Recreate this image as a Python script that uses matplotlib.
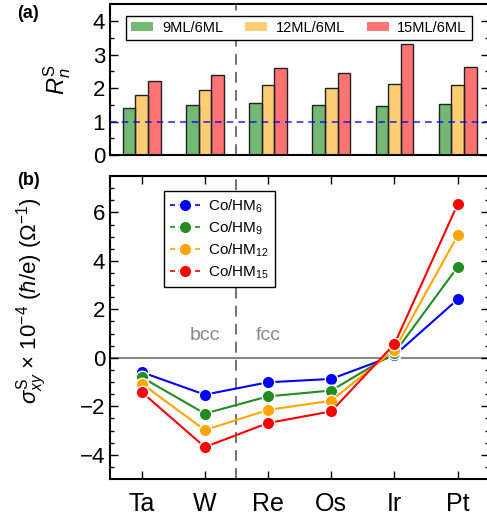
import matplotlib.pyplot as plt
import numpy as np
from matplotlib.lines import Line2D

plt.rcParams['font.family'] = ['Liberation Sans', 'DejaVu Sans']
plt.rcParams['mathtext.fontset'] = 'custom'
plt.rcParams['mathtext.rm'] = 'Liberation Sans'
plt.rcParams['mathtext.it'] = 'Liberation Sans:italic'

# metaller
metaller = ['Ta', 'W', 'Re', 'Os', 'Ir', 'Pt']

# (a) forhold R_n^S
r_9 = [1.40, 1.49, 1.56, 1.51, 1.47, 1.53]
r_12 = [1.79, 1.94, 2.09, 2.01, 2.14, 2.09]
r_15 = [2.22, 2.38, 2.59, 2.44, 3.33, 2.62]
bar_navn = ['9ML/6ML', '12ML/6ML', '15ML/6ML']

# (b) spinn-Hall-konduktivitet
sig_6 = [-0.59, -1.52, -1.01, -0.87, 0.10, 2.41]
sig_9 = [-0.80, -2.30, -1.59, -1.35, 0.20, 3.75]
sig_12 = [-1.06, -2.98, -2.15, -1.77, 0.34, 5.05]
sig_15 = [-1.41, -3.68, -2.69, -2.21, 0.57, 6.34]
linje_navn = ['Co/HM$_{6}$', 'Co/HM$_{9}$', 'Co/HM$_{12}$', 'Co/HM$_{15}$']

x = np.arange(len(metaller))

fig = plt.figure(figsize=(4.87, 5.2), dpi=100)
ax1 = fig.add_axes([0.2259, 0.7019, 0.7788, 0.2904])
ax2 = fig.add_axes([0.2259, 0.0788, 0.7788, 0.5827])

# --- (a) ---
b = 0.2
farger_bar = ['green', 'orange', 'red']
for i, (verdier, farge, navn) in enumerate(zip([r_9, r_12, r_15], farger_bar, bar_navn)):
    ax1.bar(x + (i - 1) * b, verdier, width=b, color=farge, alpha=0.55,
            edgecolor='none', label=navn, zorder=2)
    ax1.bar(x + (i - 1) * b, verdier, width=b, color='none',
            edgecolor='#222222', linewidth=1.0, zorder=3)
ax1.axhline(1, color='blue', ls=(0, (4, 3)), lw=1.2, alpha=0.8, zorder=4)
ax1.axvline(1.5, color='#666666', ls=(0, (6, 4)), lw=1.3, zorder=1)
ax1.set_xlim(-0.5, 5.5)
ax1.set_ylim(0, 4.52)
ax1.set_yticks([0, 1, 2, 3, 4])
ax1.set_yticks(np.arange(0.5, 4.5, 1), minor=True)
ax1.set_xticks([])
ax1.tick_params(axis='y', which='both', direction='in', right=True, labelsize=16)
ax1.tick_params(axis='y', which='major', length=6, width=1)
ax1.tick_params(axis='y', which='minor', length=3, width=1)
ax1.set_ylabel('$R^{\\mathrm{S}}_{n}$', fontsize=17, labelpad=14)
leg1 = ax1.legend(loc='upper center', bbox_to_anchor=(0.498, 0.97), ncol=3,
                  fontsize=10.5, frameon=True, fancybox=False, edgecolor='black',
                  handlelength=1.5, handleheight=0.6, columnspacing=1.5,
                  handletextpad=0.6, borderpad=0.35, framealpha=1)
leg1.get_frame().set_linewidth(1.0)
for s in ax1.spines.values():
    s.set_linewidth(1.5)

# --- (b) ---
farger_linje = ['blue', 'forestgreen', 'orange', 'red']
ax2.axhline(0, color='#888888', lw=1.5, zorder=1)
ax2.axvline(1.5, color='#666666', ls=(0, (6, 4)), lw=1.3, zorder=1)
handles = []
for verdier, farge, navn in zip([sig_6, sig_9, sig_12, sig_15], farger_linje, linje_navn):
    ax2.plot(x, verdier, '-o', color=farge, lw=1.5, ms=9,
             markeredgecolor='white', markeredgewidth=1.0, zorder=3)
    handles.append(Line2D([], [], color=farge, ls=(0, (3, 2)), lw=1.2, marker='o',
                          ms=9, markeredgecolor='white', markeredgewidth=1.0, label=navn))
ax2.text(1, 0.55, 'bcc', color='#888888', fontsize=14, ha='center', va='bottom')
ax2.text(2, 0.55, 'fcc', color='#888888', fontsize=14, ha='center', va='bottom')
ax2.set_xlim(-0.5, 5.5)
ax2.set_ylim(-5, 7.5)
ax2.set_xticks(x)
ax2.set_xticklabels(metaller)
ax2.set_yticks([-4, -2, 0, 2, 4, 6])
ax2.set_yticks(np.arange(-4.5, 7.5, 0.5), minor=True)
ax2.tick_params(axis='both', which='both', direction='in', right=True, top=True)
ax2.tick_params(axis='y', labelsize=16)
ax2.tick_params(axis='x', labelsize=18, pad=9)
ax2.tick_params(axis='x', which='minor', bottom=False, top=False)
ax2.tick_params(axis='both', which='major', length=6, width=1)
ax2.tick_params(axis='y', which='minor', length=3, width=1)
ax2.set_yticklabels(['\u22124', '\u22122', '0', '2', '4', '6'])
ax2.set_ylabel('$\\sigma^{\\mathrm{S}}_{xy}$ $\\times$ 10$^{-4}$ ($\\hbar$/e) ($\\Omega^{-1}$)',
               fontsize=16)
ax2.yaxis.set_label_coords(-0.16, 0.59)
leg2 = ax2.legend(handles=handles, loc='upper left', bbox_to_anchor=(0.142, 0.95),
                  borderaxespad=0, fontsize=11, frameon=True, fancybox=False,
                  edgecolor='black', handlelength=2.0, handletextpad=0.5,
                  labelspacing=0.3, borderpad=0.4, framealpha=1)
leg2.get_frame().set_linewidth(1.0)
for s in ax2.spines.values():
    s.set_linewidth(1.5)

fig.text(0.035, 0.975, '(a)', fontsize=13, fontweight='bold', va='center')
fig.text(0.035, 0.652, '(b)', fontsize=13, fontweight='bold', va='center')

fig.savefig('out.png', dpi=100)
